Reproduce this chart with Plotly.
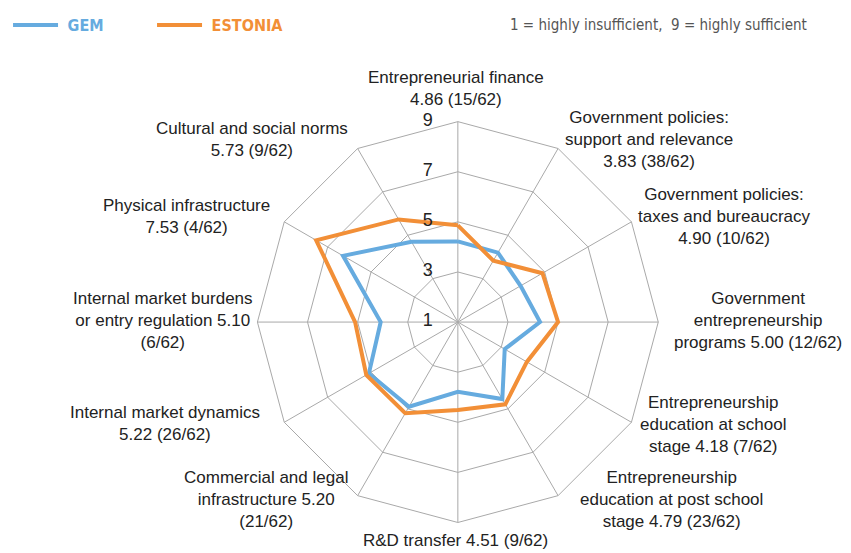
import plotly.graph_objects as go

categories = [
    "Entrepreneurial finance",
    "Government policies: support and relevance",
    "Government policies: taxes and bureaucracy",
    "Government entrepreneurship programs",
    "Entrepreneurship education at school stage",
    "Entrepreneurship education at post school stage",
    "R&D transfer",
    "Commercial and legal infrastructure",
    "Internal market dynamics",
    "Internal market burdens or entry regulation",
    "Physical infrastructure",
    "Cultural and social norms",
]
estonia = [4.86, 3.83, 4.90, 5.00, 4.18, 4.79, 4.51, 5.20, 5.22, 5.10, 7.53, 5.73]
gem = [4.22, 4.20, 3.89, 4.28, 3.16, 4.55, 3.78, 4.90, 5.10, 4.08, 6.29, 4.70]
ranks = ["15/62", "38/62", "10/62", "12/62", "7/62", "23/62", "9/62", "21/62", "26/62", "6/62", "4/62", "9/62"]
radial_ticks = [1, 3, 5, 7, 9]
radial_range = [1, 9]

# label text layout (line breaks as in the reference)
label_texts = [
    "Entrepreneurial finance<br>{v} ({r})",
    "Government policies:<br>support and relevance<br>{v} ({r})",
    "Government policies:<br>taxes and bureaucracy<br>{v} ({r})",
    "Government<br>entrepreneurship<br>programs {v} ({r})",
    "Entrepreneurship<br>education at school<br>stage {v} ({r})",
    "Entrepreneurship<br>education at post school<br>stage {v} ({r})",
    "R&D transfer {v} ({r})",
    "Commercial and legal<br>infrastructure {v}<br>({r})",
    "Internal market dynamics<br>{v} ({r})",
    "Internal market burdens<br>or entry regulation {v}<br>({r})",
    "Physical infrastructure<br>{v} ({r})",
    "Cultural and social norms<br>{v} ({r})",
]
# label centre positions in page pixels (layout only)
label_pos = [(453, 82), (648, 134), (723, 212), (757, 317), (712, 423), (670, 499),
             (453, 540), (262, 499), (160, 422), (158, 317), (182, 212), (248, 134)]

OFF = 8  # default body margin of the html page
W, H = 851, 553
BLUE = "#66abdf"
ORANGE = "#f28f37"
GRID = "#a9a9a9"
NARROW = "DejaVu Sans Condensed, Liberation Sans Narrow, sans-serif"
MAIN = "Liberation Sans, Arial, sans-serif"


def px(x):
    return (x - OFF) / W


def py(y):
    return 1 - (y - OFF) / H


fig = go.Figure()
fig.add_trace(go.Scatterpolar(
    r=gem + gem[:1], theta=categories + categories[:1], mode="lines",
    line=dict(color=BLUE, width=4),
    name=f" <b><span style='color:{BLUE}'>GEM</span></b>"))
fig.add_trace(go.Scatterpolar(
    r=estonia + estonia[:1], theta=categories + categories[:1], mode="lines",
    line=dict(color=ORANGE, width=4),
    name=f" <b><span style='color:{ORANGE}'>ESTONIA</span></b>"))
# radial tick labels, drawn left of the vertical axis
# (the centre value is nudged a hair off the range minimum so that it is drawn)
label_r = [t if t > radial_range[0] else t + 0.02 for t in radial_ticks]
fig.add_trace(go.Scatterpolar(
    r=label_r, theta=[categories[0]] * len(radial_ticks), mode="text",
    text=[f"{t}" + "\u00a0" * 5 for t in radial_ticks], textposition="middle left",
    textfont=dict(family=MAIN, size=18, color="#222"),
    showlegend=False, hoverinfo="skip", cliponaxis=False))

cx, cy, R = 455, 319, 203
annotations = []
for t, v, rk, (lx, ly) in zip(label_texts, estonia, ranks, label_pos):
    annotations.append(dict(
        text=t.format(v=f"{v:.2f}", r=rk), x=px(lx), y=py(ly),
        xref="paper", yref="paper", xanchor="center", yanchor="middle",
        showarrow=False, align="center",
        font=dict(family=MAIN, size=17, color="#222222")))
annotations.append(dict(
    text="1 = highly insufficient,  9 = highly sufficient", x=px(809), y=py(18),
    xref="paper", yref="paper", xanchor="right", yanchor="middle", showarrow=False,
    font=dict(family=NARROW, size=15, color="#555555")))

fig.update_layout(
    width=W, height=H, paper_bgcolor="white", plot_bgcolor="white",
    margin=dict(l=0, r=0, t=0, b=0),
    showlegend=True,
    legend=dict(orientation="h", x=px(2), y=py(18), xanchor="left", yanchor="middle",
                font=dict(family=NARROW, size=16, color="#888"),
                entrywidth=84, entrywidthmode="pixels", itemwidth=45,
                bgcolor="rgba(0,0,0,0)"),
    polar=dict(
        domain=dict(x=[px(cx - R), px(cx + R)], y=[py(cy + R), py(cy - R)]),
        bgcolor="white", gridshape="linear",
        radialaxis=dict(range=radial_range, tickvals=radial_ticks, angle=90, showline=False,
                        gridcolor=GRID, gridwidth=1, ticks="", showticklabels=False),
        angularaxis=dict(rotation=90, direction="clockwise", showticklabels=False, ticks="",
                         gridcolor=GRID, linecolor=GRID, showline=True, linewidth=1),
    ),
    annotations=annotations,
)
fig.write_html("out.html")
